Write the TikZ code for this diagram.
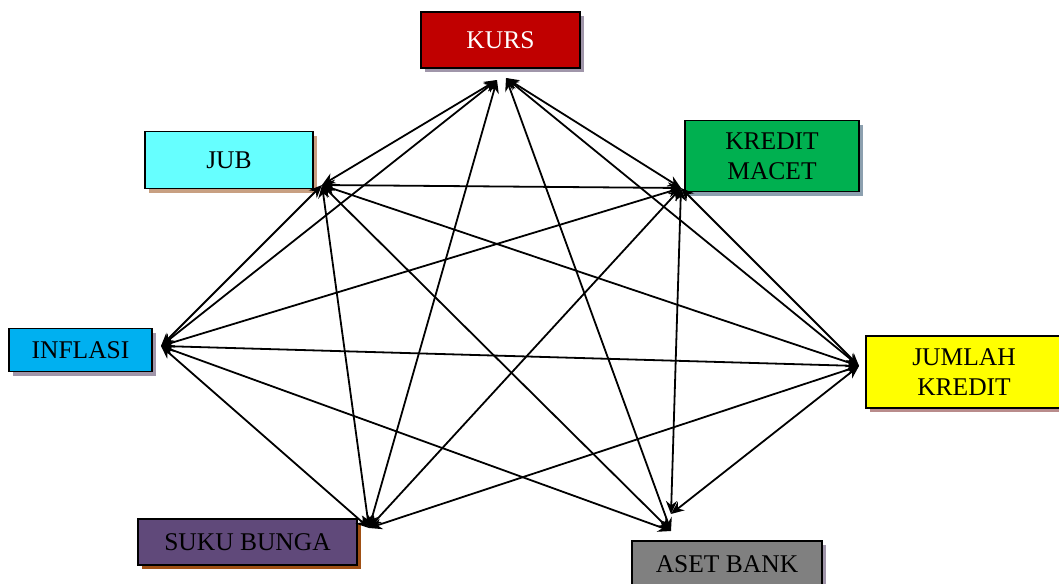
\documentclass[tikz,border=0pt]{standalone}
\usepackage{fontspec}
\setmainfont{Liberation Serif}
\usetikzlibrary{arrows.meta,shadows}
\definecolor{kursc}{RGB}{192,0,0}
\definecolor{jubc}{RGB}{102,255,255}
\definecolor{macetc}{RGB}{0,176,80}
\definecolor{inflc}{RGB}{0,176,240}
\definecolor{jumc}{RGB}{255,255,0}
\definecolor{sukuc}{RGB}{96,73,122}
\definecolor{asetc}{RGB}{128,128,128}
\definecolor{shA}{RGB}{160,150,170}
\definecolor{shB}{RGB}{200,160,130}
\definecolor{shC}{RGB}{140,160,175}
\definecolor{shD}{RGB}{185,140,140}
\definecolor{shE}{RGB}{160,80,20}
\begin{document}
\begin{tikzpicture}[x=1pt,y=-1pt,
  box/.style={draw=black,line width=1.5pt,inner sep=0pt,align=center,
    font=\fontsize{25.5}{30}\selectfont},
  sh/.style={drop shadow={shadow xshift=4pt,shadow yshift=-4pt,fill=#1,opacity=1}},
  link/.style={line width=1.8pt,{Stealth[length=13pt,width=11pt]}-{Stealth[length=13pt,width=11pt]}}]
\useasboundingbox (0,0) rectangle (1059,583);
% boxes
\node[box,sh=shA,fill=kursc,text=white,minimum width=159pt,minimum height=56pt] (kurs) at (500.5,40) {KURS};
\node[box,sh=shB,fill=jubc,minimum width=168pt,minimum height=57pt] (jub) at (229,160) {JUB};
\node[box,sh=shC,fill=macetc,minimum width=174pt,minimum height=71pt] (macet) at (772,156) {KREDIT\\MACET};
\node[box,sh=shA,fill=inflc,minimum width=143pt,minimum height=43pt] (infl) at (80.5,350) {INFLASI};
\node[box,sh=shD,fill=jumc,minimum width=196pt,minimum height=72pt] (jum) at (964,372) {JUMLAH\\KREDIT};
\node[box,sh=shE,fill=sukuc,minimum width=219pt,minimum height=46pt] (suku) at (247.5,542) {SUKU BUNGA};
\node[box,sh=shA,fill=asetc,minimum width=190pt,minimum height=46pt,anchor=north] (aset) at (727,540) {ASET BANK};
% connector ends
\coordinate (kl) at (497,80);
\coordinate (kr) at (506,78);
\coordinate (j) at (322,185);
\coordinate (m) at (681,188);
\coordinate (i) at (161,346);
\coordinate (l) at (859,366);
\coordinate (s) at (369,528);
\coordinate (au) at (671,514);
\coordinate (a) at (671,531);
% connectors
\draw[link] (kl) -- (j);
\draw[link] (kr) -- (m);
\draw[link] (kl) -- (i);
\draw[link] (kr) -- (l);
\draw[link] (kl) -- (s);
\draw[link] (kr) -- (a);
\draw[link] (j) -- (m);
\draw[link] (j) -- (i);
\draw[link] (j) -- (l);
\draw[link] (j) -- (s);
\draw[link] (j) -- (a);
\draw[link] (m) -- (i);
\draw[link] (m) -- (l);
\draw[link] (m) -- (s);
\draw[link] (m) -- (au);
\draw[link] (i) -- (l);
\draw[link] (i) -- (s);
\draw[link] (i) -- (a);
\draw[link] (l) -- (s);
\draw[link] (l) -- (au);
\end{tikzpicture}
\end{document}
